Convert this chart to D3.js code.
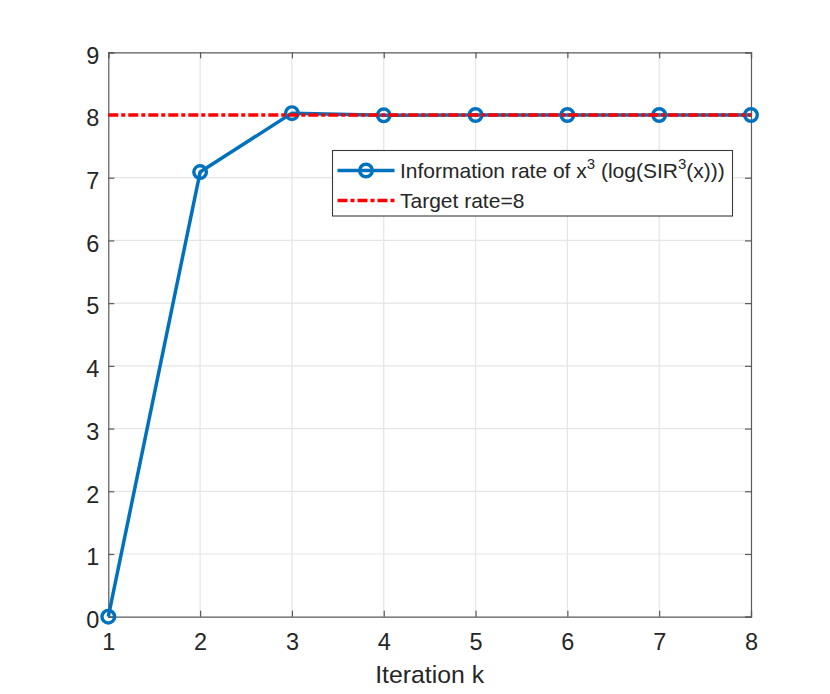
<!DOCTYPE html>
<html>
<head>
<meta charset="utf-8">
<script src="https://cdn.jsdelivr.net/npm/d3@7"></script>
<style>
  body { margin: 0; background: #fff; }
  text { font-family: "Liberation Sans", Arial, Helvetica, sans-serif; fill: #262626; }
</style>
</head>
<body>
<div id="chart"></div>
<script>
var svgWidth = 830;
var svgHeight = 694;

// plot box position
var margin = { top: 52.3, right: 79, bottom: 77.3, left: 108.3 };
var width = svgWidth - margin.left - margin.right;
var height = svgHeight - margin.top - margin.bottom;

// data
var iterations = [1, 2, 3, 4, 5, 6, 7, 8];
var rateValues = [0, 7.09, 8.03, 7.995, 8.0, 8.0, 8.0, 8.0];
var targetRate = 8;
var xTicks = [1, 2, 3, 4, 5, 6, 7, 8];
var yTicks = [0, 1, 2, 3, 4, 5, 6, 7, 8, 9];

var blue = "#0072BD";
var red = "#FF0000";

var svg = d3.select("#chart")
  .append("svg")
  .attr("width", svgWidth)
  .attr("height", svgHeight);

var chartGroup = svg.append("g")
  .attr("transform", `translate(${margin.left}, ${margin.top})`);

var xScale = d3.scaleLinear().domain([1, 8]).range([0, width]);
var yScale = d3.scaleLinear().domain([0, 9]).range([height, 0]);

// grid lines
chartGroup.append("g")
  .selectAll("line")
  .data(xTicks.slice(1, -1))
  .enter()
  .append("line")
  .attr("x1", d => xScale(d))
  .attr("x2", d => xScale(d))
  .attr("y1", 0)
  .attr("y2", height)
  .attr("stroke", "#e5e5e5")
  .attr("stroke-width", 1.2);

chartGroup.append("g")
  .selectAll("line")
  .data(yTicks.slice(1, -1))
  .enter()
  .append("line")
  .attr("x1", 0)
  .attr("x2", width)
  .attr("y1", d => yScale(d))
  .attr("y2", d => yScale(d))
  .attr("stroke", "#e5e5e5")
  .attr("stroke-width", 1.2);

// axes (ticks inside, box all round)
var tickLen = 6;
var axisColor = "#5a5a5a";

var bottomAxis = d3.axisBottom(xScale).tickValues(xTicks).tickSize(-tickLen).tickPadding(17).tickFormat(d3.format("d"));
var leftAxis = d3.axisLeft(yScale).tickValues(yTicks).tickSize(-tickLen).tickPadding(9).tickFormat(d3.format("d"));
var topAxis = d3.axisTop(xScale).tickValues(xTicks).tickSize(-tickLen).tickFormat("");
var rightAxis = d3.axisRight(yScale).tickValues(yTicks).tickSize(-tickLen).tickFormat("");

var xAxis = chartGroup.append("g")
  .attr("transform", `translate(0, ${height})`)
  .call(bottomAxis);
var yAxis = chartGroup.append("g").call(leftAxis);
var xAxisTop = chartGroup.append("g").call(topAxis);
var yAxisRight = chartGroup.append("g")
  .attr("transform", `translate(${width}, 0)`)
  .call(rightAxis);

[xAxis, yAxis, xAxisTop, yAxisRight].forEach(function(ax) {
  ax.attr("font-family", "'Liberation Sans', Arial, sans-serif");
  ax.select(".domain").attr("stroke", axisColor).attr("stroke-width", 1.2);
  ax.selectAll(".tick line").attr("stroke", axisColor).attr("stroke-width", 1.2);
  ax.selectAll("text").attr("fill", "#262626").style("font-size", "23.5px");
});
// nudge y labels a little lower, like the reference
yAxis.selectAll("text").attr("dy", "0.46em");

// x axis label
chartGroup.append("text")
  .attr("x", width / 2)
  .attr("y", height + 66)
  .attr("text-anchor", "middle")
  .style("font-size", "24.8px")
  .text("Iteration k");

// rate line + markers
var line = d3.line()
  .x((d, i) => xScale(iterations[i]))
  .y(d => yScale(d));

chartGroup.append("path")
  .datum(rateValues)
  .attr("d", line)
  .attr("fill", "none")
  .attr("stroke", blue)
  .attr("stroke-width", 3.5)
  .attr("stroke-linejoin", "round");

chartGroup.selectAll(".marker")
  .data(rateValues)
  .enter()
  .append("circle")
  .classed("marker", true)
  .attr("cx", (d, i) => xScale(iterations[i]))
  .attr("cy", d => yScale(d))
  .attr("r", 6.3)
  .attr("fill", "none")
  .attr("stroke", blue)
  .attr("stroke-width", 3.4);

// target line, drawn on top
chartGroup.append("line")
  .attr("x1", xScale(1))
  .attr("x2", xScale(8))
  .attr("y1", yScale(targetRate))
  .attr("y2", yScale(targetRate))
  .attr("stroke", red)
  .attr("stroke-width", 3.6)
  .attr("stroke-dasharray", "10,3,4,3");

// legend
var legend = svg.append("g").attr("transform", "translate(332.5, 150.5)");

legend.append("rect")
  .attr("width", 400)
  .attr("height", 65.5)
  .attr("fill", "#fff")
  .attr("stroke", "#3a3a3a")
  .attr("stroke-width", 1.1);

legend.append("line")
  .attr("x1", 5).attr("x2", 62)
  .attr("y1", 20).attr("y2", 20)
  .attr("stroke", blue)
  .attr("stroke-width", 3.5);
legend.append("circle")
  .attr("cx", 33.5).attr("cy", 20).attr("r", 6.3)
  .attr("fill", "none")
  .attr("stroke", blue)
  .attr("stroke-width", 3.4);

var label1 = legend.append("text")
  .attr("x", 67.5)
  .attr("y", 27.5)
  .style("font-size", "21px");
label1.append("tspan").text("Information rate of x");
label1.append("tspan").attr("dy", -9).style("font-size", "15px").text("3");
label1.append("tspan").attr("dy", 9).text(" (log(SIR");
label1.append("tspan").attr("dy", -9).style("font-size", "15px").text("3");
label1.append("tspan").attr("dy", 9).text("(x)))");

legend.append("line")
  .attr("x1", 5).attr("x2", 62)
  .attr("y1", 50).attr("y2", 50)
  .attr("stroke", red)
  .attr("stroke-width", 3.6)
  .attr("stroke-dasharray", "10,3,4,3");

legend.append("text")
  .attr("x", 67.5)
  .attr("y", 57.5)
  .style("font-size", "21px")
  .text("Target rate=8");
</script>
</body>
</html>
